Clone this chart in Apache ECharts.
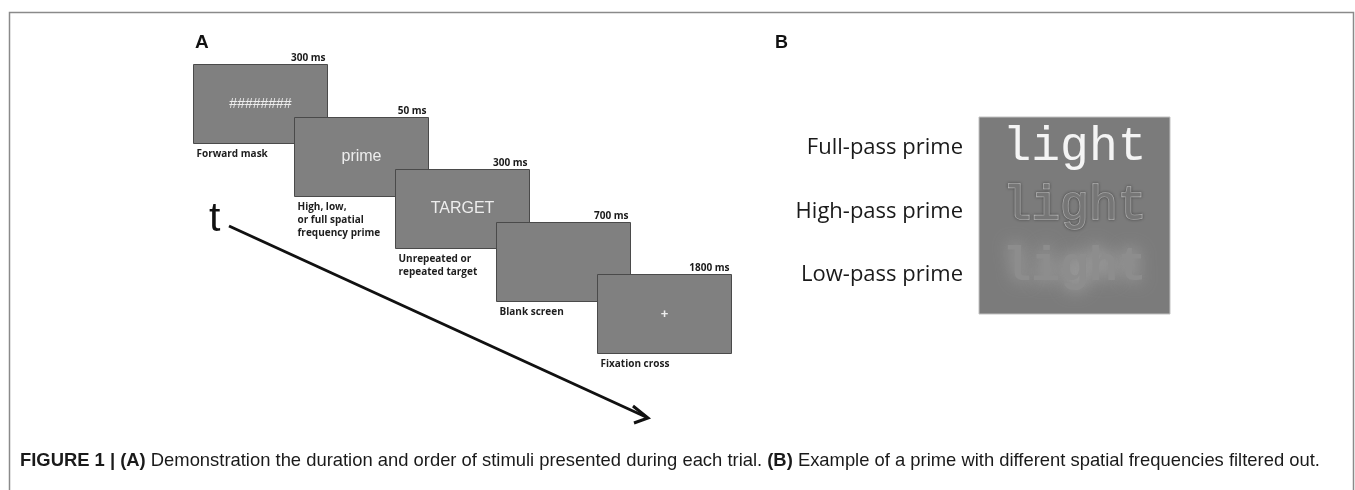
<!DOCTYPE html>
<html>
<head>
<meta charset="utf-8">
<script src="https://cdn.jsdelivr.net/npm/echarts@6/dist/echarts.min.js"></script>
<style>
  html, body { margin: 0; padding: 0; background: #ffffff; }
  #chart { width: 1355px; height: 490px; }
</style>
</head>
<body>
<div id="chart"></div>
<script>
// ---- Panel A: trial sequence (one entry per screen, in order) ----
const stepIndex = [0, 1, 2, 3, 4];
const stepDurations = ['300 ms', '50 ms', '300 ms', '700 ms', '1800 ms'];
const stepStimuli = ['########', 'prime', 'TARGET', '', '+'];
const stepCaptions = [
  'Forward mask',
  'High, low,\nor full spatial\nfrequency prime',
  'Unrepeated or\nrepeated target',
  'Blank screen',
  'Fixation cross'
];
const timeLabel = 't';

// ---- Panel B: prime filtering examples ----
const primeLabels = ['Full-pass prime', 'High-pass prime', 'Low-pass prime'];
const primeWords = ['light', 'light', 'light'];
const primeRows = [0, 1, 2];

// ---- Panel letters and figure caption ----
const panelLetters = ['A', 'B'];
const captionBold1 = 'FIGURE 1 | (A)';
const captionText1 = ' Demonstration the duration and order of stimuli presented during each trial. ';
const captionBold2 = '(B)';
const captionText2 = ' Example of a prime with different spatial frequencies filtered out.';

// ---- styles ----
const SCREEN_W = 134, SCREEN_H = 79;
const stimulusFont = ['14px "Liberation Sans", Arial', '16px "Liberation Sans", Arial', '16px "Liberation Sans", Arial', '16px "Liberation Sans", Arial', 'bold 13px "Liberation Sans", Arial'];
const smallBold = 'bold 10px "Open Sans", "Noto Sans", sans-serif';
const monoFont = '48px "Liberation Mono", "Courier New", monospace';
const captionFont = '18.4px "Liberation Sans", Arial';

function txt(style) {
  if (style.align) { style.textAlign = style.align; }
  if (style.verticalAlign) { style.textVerticalAlign = style.verticalAlign; }
  return style;
}

function renderScreen(params, api) {
  const i = params.dataIndex;
  const p = api.coord([api.value(0), api.value(1)]);
  const x = Math.round(p[0]) + 0.5, y = Math.round(p[1]) + 0.5;
  return {
    type: 'group',
    children: [
      { type: 'rect', shape: { x: x, y: y, width: SCREEN_W, height: SCREEN_H },
        style: { fill: '#808080', stroke: '#4a4a4a', lineWidth: 1 } },
      { type: 'text', style: txt({ text: stepStimuli[i], x: x + SCREEN_W / 2, y: y + SCREEN_H / 2,
        align: 'center', verticalAlign: 'middle', fill: '#ededed', font: stimulusFont[i] }) },
      { type: 'text', style: txt({ text: stepDurations[i], x: x + SCREEN_W - 2, y: y - 1,
        align: 'right', verticalAlign: 'bottom', fill: '#1a1a1a', font: smallBold }) },
      { type: 'text', style: txt({ text: stepCaptions[i], x: x + 3, y: y + SCREEN_H + 4,
        align: 'left', verticalAlign: 'top', fill: '#1e1e1e', font: smallBold, lineHeight: 13 }) }
    ]
  };
}

function renderPrime(params, api) {
  const k = params.dataIndex;
  const c = api.coord([api.value(0), api.value(1)]);
  const left = api.coord([0, api.value(1)])[0];
  const label = { type: 'text', style: txt({ text: primeLabels[k], x: left - 16, y: c[1] - 1,
    align: 'right', verticalAlign: 'middle', fill: '#1a1a1a', font: '22px "Open Sans", "Noto Sans", sans-serif' }) };
  let children = [label];
  if (k === 0) {
    children.push({ type: 'text', style: txt({ text: primeWords[k], x: c[0], y: c[1] - 1, align: 'center', verticalAlign: 'middle',
      fill: '#f4f4f4', font: monoFont }) });
  } else if (k === 1) {
    children.push({ type: 'text', style: txt({ text: primeWords[k], x: c[0], y: c[1] - 6, align: 'center', verticalAlign: 'middle',
      fill: '#767676', stroke: '#c8c8c8', lineWidth: 1.6, font: monoFont,
      textShadowColor: 'rgba(40,40,40,0.55)', textShadowBlur: 3 }) });
  } else {
    children.push({ type: 'text', style: txt({ text: primeWords[k], x: c[0], y: c[1] - 8, align: 'center', verticalAlign: 'middle',
      fill: '#8d8d8d', font: 'bold ' + monoFont,
      textShadowColor: '#b0b0b0', textShadowBlur: 18 }) });
  }
  return { type: 'group', children: children };
}

const chart = echarts.init(document.getElementById('chart'), null, { renderer: 'canvas' });
chart.setOption({
  animation: false,
  backgroundColor: '#ffffff',
  grid: [
    { left: 193, top: 64, width: 404, height: 210, show: false },
    { left: 979, top: 117, width: 191, height: 197, show: true,
      backgroundColor: '#7b7b7b', borderColor: '#c2c2c2', borderWidth: 1 }
  ],
  xAxis: [
    { gridIndex: 0, type: 'value', min: 0, max: 4, show: false },
    { gridIndex: 1, type: 'value', min: 0, max: 1, show: false }
  ],
  yAxis: [
    { gridIndex: 0, type: 'value', min: 0, max: 4, inverse: true, show: false },
    { gridIndex: 1, type: 'value', min: -0.5, max: 2.6, inverse: true, show: false }
  ],
  series: [
    { type: 'custom', xAxisIndex: 0, yAxisIndex: 0, clip: false,
      data: stepIndex.map(function (i) { return [i, i]; }), renderItem: renderScreen, silent: true },
    { type: 'custom', xAxisIndex: 1, yAxisIndex: 1, clip: false,
      data: primeRows.map(function (k) { return [0.5, k]; }), renderItem: renderPrime, silent: true }
  ],
  graphic: [
    { type: 'rect', silent: true, shape: { x: 9.5, y: 12.5, width: 1344, height: 500 },
      style: { fill: 'none', stroke: '#8a8a8a', lineWidth: 1.5 } },
    { type: 'text', silent: true, style: txt({ text: panelLetters[0], x: 195, y: 43, align: 'left', verticalAlign: 'middle',
      fill: '#111', font: 'bold 19px "Liberation Sans", Arial' }) },
    { type: 'text', silent: true, style: txt({ text: panelLetters[1], x: 775, y: 43, align: 'left', verticalAlign: 'middle',
      fill: '#111', font: 'bold 18px "Liberation Sans", Arial' }) },
    { type: 'text', silent: true, style: txt({ text: timeLabel, x: 209, y: 220, align: 'left', verticalAlign: 'middle',
      fill: '#111', font: '41px "Liberation Sans", Arial' }) },
    { type: 'line', silent: true, shape: { x1: 229, y1: 226, x2: 646, y2: 417 },
      style: { stroke: '#111', lineWidth: 3 } },
    { type: 'polyline', silent: true, shape: { points: [[633, 406], [648, 418], [634, 423]] },
      style: { stroke: '#111', lineWidth: 3, fill: 'none' } },
    { type: 'text', silent: true, style: txt({
      text: '{b|' + captionBold1 + '}{n|' + captionText1 + '}{b|' + captionBold2 + '}{n|' + captionText2 + '}',
      x: 20, y: 461, align: 'left', verticalAlign: 'middle',
      font: captionFont,
      rich: {
        b: { font: 'bold ' + captionFont, fill: '#1a1a1a' },
        n: { font: captionFont, fill: '#1a1a1a' }
      } }) }
  ]
});
</script>
</body>
</html>
